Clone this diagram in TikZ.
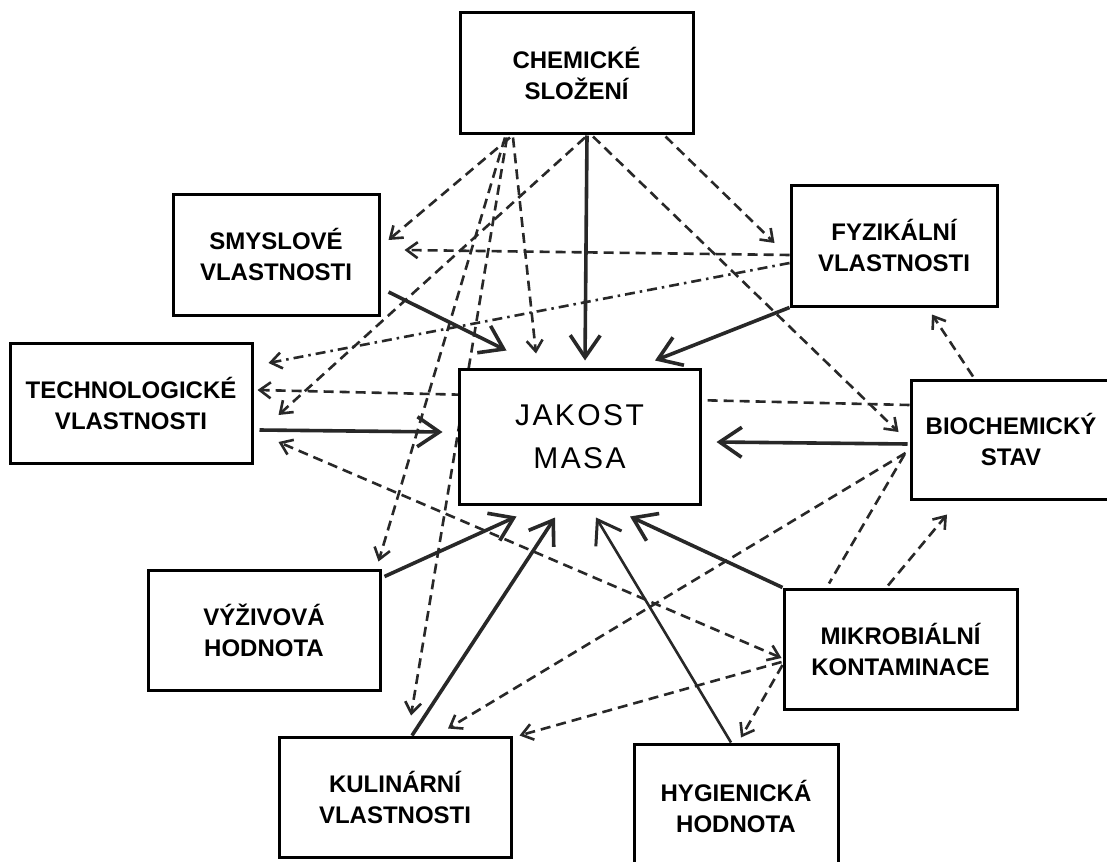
\documentclass[tikz,border=0pt]{standalone}
\usepackage{fontspec}
\setmainfont{Liberation Sans}
\usetikzlibrary{arrows.meta,calc,backgrounds}
\pgfdeclarelayer{lines}
\pgfsetlayers{background,lines,main}
\definecolor{ink}{RGB}{40,40,40}
\tikzset{
  box/.style={draw=black, line width=3pt, fill=white, rectangle, inner sep=0pt, align=center,
    font=\bfseries\fontsize{24}{31}\selectfont},
  solidarr/.style={draw=ink, line width=3.6pt, -{Straight Barb[length=22pt,width=30pt,line width=3.6pt]}},
  thinarr/.style={draw=ink, line width=2.6pt, -{Straight Barb[length=22pt,width=30pt,line width=3pt]}},
  smalltip/.style={Straight Barb[length=11pt,width=16pt,line width=2.6pt]},
  dasharr/.style={draw=ink, line width=2.6pt, dash pattern=on 10pt off 6pt,
    -{Straight Barb[length=11pt,width=16pt,line width=2.6pt]}},
  dashboth/.style={draw=ink, line width=2.6pt, dash pattern=on 10pt off 6pt,
    {Straight Barb[length=11pt,width=16pt,line width=2.6pt]}-{Straight Barb[length=11pt,width=16pt,line width=2.6pt]}},
  dashplain/.style={draw=ink, line width=2.6pt, dash pattern=on 10pt off 6pt},
  dashdotarr/.style={draw=ink, line width=2.6pt, dash pattern=on 10pt off 5pt on 2.5pt off 5pt,
    -{Straight Barb[length=11pt,width=16pt,line width=2.6pt]}},
}
\begin{document}
\begin{tikzpicture}[x=1pt,y=-1pt]
\useasboundingbox (0,0) rectangle (1107,861);
\begin{pgfonlayer}{background}
\fill[white] (0,0) rectangle (1107,861);
\end{pgfonlayer}

% nodes
\node[box, minimum width=233pt, minimum height=121pt] (chem) at (576.5,73.5) {CHEMICKÉ\\SLOŽENÍ};
\node[box, minimum width=206pt, minimum height=121pt] (smys) at (276,254.5) {SMYSLOVÉ\\VLASTNOSTI};
\node[box, minimum width=206pt, minimum height=121pt] (fyz) at (894,245.5) {FYZIKÁLNÍ\\VLASTNOSTI};
\node[box, minimum width=242pt, minimum height=120pt] (tech) at (131,403) {TECHNOLOGICKÉ\\VLASTNOSTI};
\node[box, minimum width=241pt, minimum height=135pt,
      font=\fontsize{30}{43}\selectfont\addfontfeatures{LetterSpace=8}] (jak) at (579.5,436.5) {JAKOST\\MASA};
\node[box, minimum width=200pt, minimum height=119pt] (bio) at (1011,439.5) {BIOCHEMICKÝ\\STAV};
\node[box, minimum width=232pt, minimum height=120pt] (vyz) at (264,630) {VÝŽIVOVÁ\\HODNOTA};
\node[box, minimum width=233pt, minimum height=120pt] (mik) at (900.5,649) {MIKROBIÁLNÍ\\KONTAMINACE};
\node[box, minimum width=232pt, minimum height=120pt] (kul) at (395,797) {KULINÁRNÍ\\VLASTNOSTI};
\node[box, minimum width=204pt, minimum height=124pt] (hyg) at (736,806) {HYGIENICKÁ\\HODNOTA};

\begin{pgfonlayer}{lines}
% solid arrows into JAKOST MASA
\draw[solidarr] ($(chem.south)+(10.5,0)$) -- ($(jak.north)+(5.5,-7)$);
\draw[solidarr] ($(smys.east)+(8,37.5)$) -- ($(jak.north west)+(49,-17)$);
\draw[solidarr] (fyz.south west) -- ($(jak.north)+(75.5,-7)$);
\draw[solidarr] ($(tech.east)+(6,27)$) -- ($(jak.west)+(-15,-4.5)$);
\draw[solidarr] ($(bio.west)+(-2,4.5)$) -- ($(jak.east)+(15,5.5)$);
\draw[solidarr] ($(vyz.north east)+(3,8)$) -- ($(jak.south west)+(59,11)$);
\draw[solidarr] ($(kul.north)+(17,0)$) -- ($(jak.south)+(-24.5,12)$);
\draw[thinarr] ($(hyg.north)+(-5,0)$) -- ($(jak.south)+(16.5,12)$);
\draw[solidarr] (mik.north west) -- ($(jak.south)+(50.5,11)$);

% dashed arrows
\draw[dasharr] ($(chem.south)+(-66.5,2)$) -- ($(smys.east)+(8,-14.5)$);
\draw[dasharr] ($(chem.south)+(-63.5,2)$) -- ($(jak.north)+(-43.5,-14)$);
\draw[dasharr] ($(chem.south)+(-71.5,2)$) -- ($(vyz.north east)+(-3,-7)$);
\draw[dasharr] ($(chem.south)+(-69.5,2)$) -- ($(kul.north)+(16,-20)$);
\draw[dasharr] ($(chem.south)+(8.5,2)$) -- ($(tech.east)+(25,12)$);
\draw[dasharr] ($(chem.south east)+(-29,1)$) -- ($(fyz.west)+(-15,-2.5)$);
\draw[dasharr] ($(chem.south)+(16.5,1)$) -- ($(bio.west)+(-11,-7.5)$);
\draw[dasharr] ($(fyz.west)+(0,9.5)$) -- ($(smys.east)+(24,-4.5)$);
\draw[dashdotarr] ($(fyz.west)+(0,17.5)$) -- ($(tech.east)+(15,-40)$);
\draw[dasharr] ($(bio.west)+(0,-34.5)$) -- ($(tech.east)+(4,-13)$);
\draw[dasharr] ($(bio.north)+(-38,-2)$) -- ($(fyz.south)+(38,7)$);
\draw[dashboth] ($(mik.west)+(-1,9)$) -- ($(tech.east)+(25,39)$);
\draw[dasharr] ($(bio.west)+(-4,13.5)$) -- ($(kul.north)+(53,-7)$);
\draw[dashplain] ($(bio.west)+(-5,15)$) -- ($(mik.north)+(-71.5,-4)$);
\draw[dasharr] ($(mik.north)+(-12.5,-2)$) -- ($(bio.south)+(-64,14)$);
\draw[dasharr] ($(mik.west)+(-1,13)$) -- ($(kul.north east)+(7,0)$);
\draw[dasharr] ($(mik.west)+(0,16)$) -- ($(hyg.north)+(5,-5)$);
\end{pgfonlayer}
\end{tikzpicture}
\end{document}
